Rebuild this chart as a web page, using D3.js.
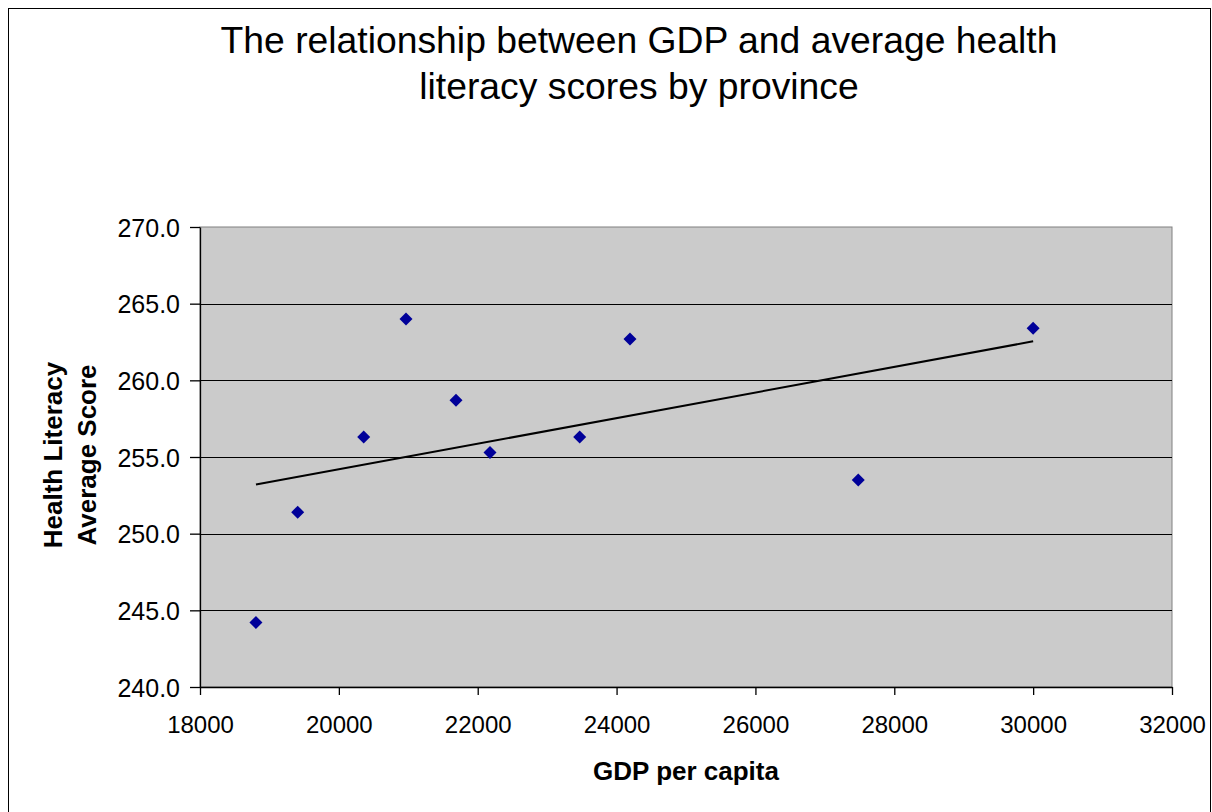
<!DOCTYPE html>
<html>
<head>
<meta charset="utf-8">
<script src="https://cdn.jsdelivr.net/npm/d3@7"></script>
<style>
  body { margin: 0; background: #fff; }
  svg { display: block; font-family: "Liberation Sans", Arial, sans-serif; }
</style>
</head>
<body>
<svg id="chart" width="1212" height="812"></svg>
<script>
// GDP per capita vs health literacy average score, one point per province
var gdp = [18806, 19407, 20358, 20967, 21687, 22177, 23469, 24193, 27481, 30000];
var score = [244.2, 251.4, 256.3, 264.0, 258.7, 255.3, 256.3, 262.7, 253.5, 263.4];
var xTicks = [18000, 20000, 22000, 24000, 26000, 28000, 30000, 32000];
var yTicks = [240, 245, 250, 255, 260, 265, 270];
var titleLines = ["The relationship between GDP and average health", "literacy scores by province"];

var svg = d3.select("#chart");
// note: "top" clashes with window.top, so plot edges get their own names
var pLeft = 200, pRight = 1172, pTop = 227, pBottom = 687;

var x = d3.scaleLinear().domain([18000, 32000]).range([pLeft, pRight]);
var y = d3.scaleLinear().domain([240, 270]).range([pBottom, pTop]);

// outer chart border
svg.append("rect")
  .attr("x", 8.5).attr("y", 8.5)
  .attr("width", 1202).attr("height", 820)
  .attr("fill", "#fff").attr("stroke", "#000").attr("stroke-width", 1);

// plot area
svg.append("rect")
  .attr("x", pLeft).attr("y", pTop)
  .attr("width", pRight - pLeft).attr("height", pBottom - pTop)
  .attr("fill", "#cbcbcb").attr("stroke", "#808080").attr("stroke-width", 1);

// gridlines
svg.append("g")
  .selectAll("line")
  .data(yTicks.slice(1, -1))
  .enter().append("line")
  .attr("x1", pLeft).attr("x2", pRight)
  .attr("y1", d => Math.round(y(d)) + 0.5).attr("y2", d => Math.round(y(d)) + 0.5)
  .attr("stroke", "#000").attr("stroke-width", 1.1);

// axes
var xAxis = d3.axisBottom(x).tickValues(xTicks).tickSize(8).tickSizeOuter(0).tickPadding(21).tickFormat(d3.format("d"));
var gx = svg.append("g").attr("transform", "translate(0," + pBottom + ")").call(xAxis);

var yAxis = d3.axisLeft(y).tickValues(yTicks).tickSize(10).tickSizeOuter(0).tickPadding(10).tickFormat(d3.format(".1f"));
var gy = svg.append("g").attr("transform", "translate(" + pLeft + ",0)").call(yAxis);

[gx, gy].forEach(function (g) {
  g.selectAll("path").attr("stroke", "#000").attr("stroke-width", 1.3);
  g.selectAll("line").attr("stroke", "#000").attr("stroke-width", 1.3);
  g.selectAll("text").attr("fill", "#000")
    .attr("font-family", "'Liberation Sans', Arial, sans-serif");
});
gx.selectAll("text").attr("font-size", 24);
gy.selectAll("text").attr("font-size", 25).attr("dy", "0.36em");

// linear trend line (least squares over the points)
var mx = d3.mean(gdp), my = d3.mean(score);
var sxy = d3.sum(gdp, (v, i) => (v - mx) * (score[i] - my));
var sxx = d3.sum(gdp, v => (v - mx) * (v - mx));
var slope = sxy / sxx, icpt = my - slope * mx;
var ends = d3.extent(gdp);
svg.append("line")
  .attr("x1", x(ends[0])).attr("y1", y(icpt + slope * ends[0]))
  .attr("x2", x(ends[1])).attr("y2", y(icpt + slope * ends[1]))
  .attr("stroke", "#000").attr("stroke-width", 2);

// points
var pts = gdp.map((v, i) => ({ g: v, s: score[i] }));
svg.append("g")
  .selectAll("path")
  .data(pts)
  .enter().append("path")
  .attr("transform", d => "translate(" + x(d.g) + "," + y(d.s) + ")")
  .attr("d", "M0,-6.5L6.5,0L0,6.5L-6.5,0Z")
  .attr("fill", "#000099");

// title
svg.append("text")
  .attr("x", 639).attr("y", 53)
  .attr("text-anchor", "middle")
  .attr("font-size", 37.3)
  .selectAll("tspan")
  .data(titleLines)
  .enter().append("tspan")
  .attr("x", 639)
  .attr("dy", (d, i) => i == 0 ? 0 : 46)
  .text(d => d);

// axis titles
svg.append("text")
  .attr("x", 686).attr("y", 780)
  .attr("text-anchor", "middle")
  .attr("font-size", 26).attr("font-weight", "bold")
  .text("GDP per capita");

var yt = svg.append("text")
  .attr("transform", "translate(0,455) rotate(-90)")
  .attr("text-anchor", "middle")
  .attr("font-size", 26).attr("font-weight", "bold");
yt.append("tspan").attr("x", 0).attr("y", 62).text("Health Literacy");
yt.append("tspan").attr("x", 0).attr("y", 96).text("Average Score");
</script>
</body>
</html>
